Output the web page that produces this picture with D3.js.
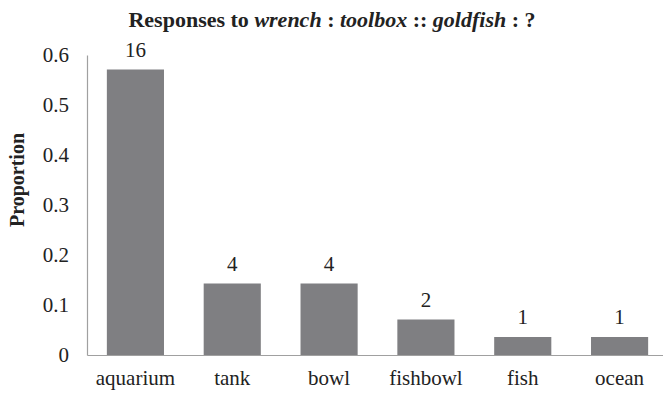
<!DOCTYPE html>
<html>
<head>
<meta charset="utf-8">
<script src="https://cdn.jsdelivr.net/npm/d3@7"></script>
<style>
body{margin:0;background:#fff;}
text{font-family:'Liberation Serif','Times New Roman',serif;fill:#222;}
</style>
</head>
<body>
<svg id="chart"></svg>
<script>
const categories=['aquarium','tank','bowl','fishbowl','fish','ocean'];
const counts=[16,4,4,2,1,1];
const proportions=[0.571,0.143,0.143,0.071,0.036,0.036];
const yTicks=[0,0.1,0.2,0.3,0.4,0.5,0.6];

const W=663,H=393;
const svg=d3.select('svg#chart').attr('width',W).attr('height',H);
const mLeft=87,mRight=668,mTop=55,mBottom=355;

const x=d3.scaleBand().domain(categories).range([mLeft,mRight])
			.paddingInner(0.41).paddingOuter(0.205);
const y=d3.scaleLinear().domain([0,0.6]).range([mBottom,mTop]);

// bars
svg.selectAll('rect.bar').data(categories).enter().append('rect')
	.attr('class','bar')
	.attr('x',d=>x(d)).attr('width',x.bandwidth())
	.attr('y',(d,i)=>y(proportions[i]))
	.attr('height',(d,i)=>y(0)-y(proportions[i]))
	.attr('fill','#7f7f82');

// counts above bars
svg.selectAll('text.count').data(categories).enter().append('text')
	.attr('class','count')
	.attr('x',d=>x(d)+x.bandwidth()/2)
	.attr('y',(d,i)=>y(proportions[i])-13)
	.attr('text-anchor','middle').style('font-size','21px')
	.text((d,i)=>counts[i]);

// y axis
const axisY=d3.axisLeft(y).tickValues(yTicks).tickSize(0).tickPadding(18)
			.tickFormat(d=>d===0?'0':d3.format('.1f')(d));
const gy=svg.append('g').attr('transform','translate('+mLeft+',0)').call(axisY);
gy.select('.domain').attr('stroke','#a0a0a0').attr('stroke-width',1.2);
gy.selectAll('text').style('font-size','21px').attr('fill','#222')
	.style('font-family',"'Liberation Serif',serif");

// x axis
const axisX=d3.axisBottom(x).tickSize(0).tickPadding(15);
const gx=svg.append('g').attr('transform','translate(0,'+mBottom+')').call(axisX);
gx.select('.domain').attr('stroke','#a0a0a0').attr('stroke-width',1.2);
gx.selectAll('text').style('font-size','21px').attr('fill','#222')
	.style('font-family',"'Liberation Serif',serif");

// y label
svg.append('text')
	.attr('transform','translate(24,180) rotate(-90)')
	.attr('text-anchor','middle').style('font-size','20px').style('font-weight','bold')
	.text('Proportion');

// title
const title=svg.append('text').attr('x',332).attr('y',27)
	.attr('text-anchor','middle').style('font-size','22px').style('font-weight','bold');
title.append('tspan').text('Responses to ');
title.append('tspan').style('font-style','italic').text('wrench');
title.append('tspan').text(' : ');
title.append('tspan').style('font-style','italic').text('toolbox');
title.append('tspan').text(' :: ');
title.append('tspan').style('font-style','italic').text('goldfish');
title.append('tspan').text(' : ?');
</script>
</body>
</html>
